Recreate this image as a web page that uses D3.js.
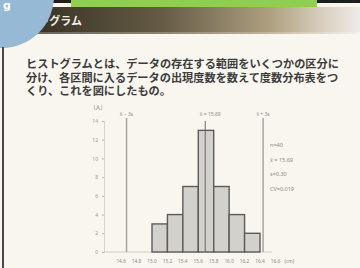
<!DOCTYPE html>
<html>
<head>
<meta charset="utf-8">
<script src="https://cdn.jsdelivr.net/npm/d3@7"></script>
<style>
  html, body { margin: 0; padding: 0; background: #f8f6ef; }
  svg { display: block; }
</style>
</head>
<body>
<div id="chart"></div>
<script>
// histogram data (frequency per class)
let binEdges = [15.0, 15.2, 15.4, 15.6, 15.8, 16.0, 16.2, 16.4]
let counts = [3, 4, 7, 13, 7, 4, 2]
let yTicks = [0, 2, 4, 6, 8, 10, 12, 14]
let xTickLabels = ['14.6', '14.8', '15.0', '15.2', '15.4', '15.6', '15.8', '16.0', '16.2', '16.4', '16.6']
let refValues = [14.67, 15.69, 16.44]
let refLabels = ['x̄ − 3s', 'x̄ = 15.69', 'x̄ + 3s']
let statLines = ['n=40', 'x̄ = 15.69', 's=0.30', 'CV=0.019']
let paragraph = [
  'ヒストグラムとは、データの存在する範囲をいくつかの区分に',
  '分け、各区間に入るデータの出現度数を数えて度数分布表をつ',
  'くり、これを図にしたもの。'
]

let width = 360
let height = 268

let svg = d3.select('#chart')
  .append('svg')
  .attr('width', width)
  .attr('height', height)

let defs = svg.append('defs')
let grad = defs.append('linearGradient').attr('id', 'hdr')
grad.append('stop').attr('offset', '0%').attr('stop-color', '#2c271d')
grad.append('stop').attr('offset', '45%').attr('stop-color', '#655b45')
grad.append('stop').attr('offset', '75%').attr('stop-color', '#ae9f80')
grad.append('stop').attr('offset', '90%').attr('stop-color', '#d9d0c0')
grad.append('stop').attr('offset', '100%').attr('stop-color', '#efebe8')

// page background + header pieces
svg.append('rect').attr('width', width).attr('height', height).attr('fill', '#f8f6ef')
svg.append('rect').attr('x', 0).attr('y', 0).attr('width', width).attr('height', 3).attr('fill', '#1e1e1e')
svg.append('rect').attr('x', 0).attr('y', 7).attr('width', width).attr('height', 27).attr('fill', 'url(#hdr)')
svg.append('rect').attr('x', 0).attr('y', 32).attr('width', width).attr('height', 2).attr('fill', '#ffffff').attr('opacity', 0.25)
svg.append('rect').attr('x', 71).attr('y', 0).attr('width', 246).attr('height', 7).attr('fill', '#8fce4e')

svg.append('text')
  .attr('x', 82)
  .attr('y', 25)
  .attr('text-anchor', 'end')
  .attr('font-family', 'Noto Sans CJK JP')
  .attr('font-weight', 700)
  .attr('font-size', 11)
  .attr('fill', '#f2efe6')
  .text('ヒストグラム')

svg.append('circle').attr('cx', 2).attr('cy', -4).attr('r', 52).attr('fill', '#96b9d6')
svg.append('text')
  .attr('x', 3)
  .attr('y', 9)
  .attr('font-family', 'DejaVu Sans')
  .attr('font-weight', 700)
  .attr('font-size', 11)
  .attr('fill', '#ffffff')
  .text('g')

// left border line
svg.append('rect').attr('x', 2).attr('y', 47).attr('width', 2).attr('height', height - 47).attr('fill', '#4a4a4a')

// paragraph
svg.selectAll('.para')
  .data(paragraph)
  .enter()
  .append('text')
  .attr('class', 'para')
  .attr('x', 26)
  .attr('y', (d, i) => 68 + i * 13.5)
  .attr('font-family', 'Noto Sans CJK JP')
  .attr('font-weight', 700)
  .attr('font-size', 11.2)
  .attr('fill', '#3b3b3b')
  .text(d => d)

// scales
let xScale = d3.scaleLinear()
  .domain([binEdges[0], binEdges[binEdges.length - 1]])
  .range([152, 260])

let yScale = d3.scaleLinear()
  .domain([0, 14])
  .range([252, 121])

let chart = svg.append('g')

// y axis
let yAxis = d3.axisLeft(yScale)
  .tickValues(yTicks)
  .tickSize(2)
  .tickPadding(4)

chart.append('g')
  .attr('transform', 'translate(104,0)')
  .call(yAxis)
  .call(g => g.select('.domain').attr('stroke', '#d6d3cc'))
  .call(g => g.selectAll('.tick line').attr('stroke', '#b8b5ae'))
  .call(g => g.selectAll('.tick text')
    .attr('font-family', 'Noto Sans')
    .attr('font-size', 5)
    .attr('fill', '#9a9790'))

chart.append('text')
  .attr('x', 98)
  .attr('y', 109)
  .attr('text-anchor', 'middle')
  .attr('font-family', 'Noto Sans CJK JP')
  .attr('font-size', 5.5)
  .attr('fill', '#777')
  .text('(人)')

// baseline
chart.append('line')
  .attr('x1', 104)
  .attr('x2', 272)
  .attr('y1', yScale(0))
  .attr('y2', yScale(0))
  .attr('stroke', '#cfccc4')
  .attr('stroke-width', 1)

// bars
let bars = counts.map((c, i) => ({ x0: binEdges[i], x1: binEdges[i + 1], n: c }))

chart.selectAll('.bar')
  .data(bars)
  .enter()
  .append('rect')
  .attr('class', 'bar')
  .attr('x', d => xScale(d.x0))
  .attr('y', d => yScale(d.n))
  .attr('width', d => xScale(d.x1) - xScale(d.x0))
  .attr('height', d => yScale(0) - yScale(d.n))
  .attr('fill', '#d3d1cc')
  .attr('stroke', '#5d5b57')
  .attr('stroke-width', 1.4)

// reference lines (mean, mean ± 3s)
chart.selectAll('.ref')
  .data(refValues)
  .enter()
  .append('line')
  .attr('class', 'ref')
  .attr('x1', d => xScale(d))
  .attr('x2', d => xScale(d))
  .attr('y1', (d, i) => i === 1 ? 121 : 118)
  .attr('y2', yScale(0))
  .attr('stroke', (d, i) => i === 1 ? '#6a6864' : '#a3a09a')
  .attr('stroke-width', (d, i) => i === 1 ? 1 : 1.4)

chart.selectAll('.ref-label')
  .data(refValues)
  .enter()
  .append('text')
  .attr('class', 'ref-label')
  .attr('x', (d, i) => xScale(d) + (i === 1 ? 5 : 0))
  .attr('y', 116)
  .attr('text-anchor', 'middle')
  .attr('font-family', 'Noto Sans')
  .attr('font-size', 5)
  .attr('fill', '#8c8983')
  .text((d, i) => refLabels[i])

// x tick labels on bin edges
let xTickValues = xTickLabels.map(d => +d)
chart.selectAll('.xlab')
  .data(xTickValues)
  .enter()
  .append('text')
  .attr('class', 'xlab')
  .attr('x', d => xScale(d))
  .attr('y', 263)
  .attr('text-anchor', 'middle')
  .attr('font-family', 'Noto Sans')
  .attr('font-size', 4.8)
  .attr('fill', '#8c8983')
  .text((d, i) => xTickLabels[i])

chart.append('text')
  .attr('x', xScale(16.6) + 14)
  .attr('y', 263)
  .attr('text-anchor', 'middle')
  .attr('font-family', 'Noto Sans')
  .attr('font-size', 4.8)
  .attr('fill', '#8c8983')
  .text('(cm)')

// stats
chart.selectAll('.stat')
  .data(statLines)
  .enter()
  .append('text')
  .attr('class', 'stat')
  .attr('x', 270)
  .attr('y', (d, i) => 147 + i * 14.5)
  .attr('font-family', 'Noto Sans')
  .attr('font-size', 5.5)
  .attr('fill', '#8c8983')
  .text(d => d)
</script>
</body>
</html>
